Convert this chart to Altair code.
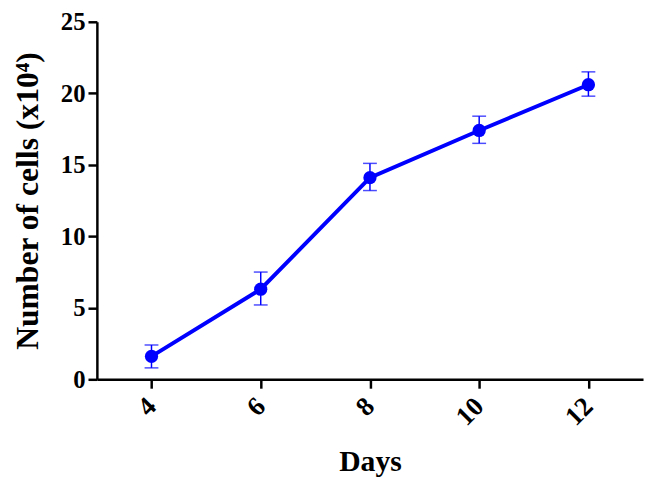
import altair as alt
import pandas as pd

days = [4, 6, 8, 10, 12]
cells = [1.6, 6.3, 14.1, 17.4, 20.6]
err_low = [0.8, 5.2, 13.2, 16.5, 19.8]
err_high = [2.4, 7.5, 15.1, 18.4, 21.5]

df = pd.DataFrame({"days": days, "cells": cells, "lo": err_low, "hi": err_high})

FONT = "Liberation Serif"
BLUE = "#0000FF"

x = alt.X("days:Q", scale=alt.Scale(domain=[3, 13], nice=False, zero=False),
          axis=alt.Axis(values=[4, 6, 8, 10, 12], title="Days", labelAngle=-45,
                        labelAlign="right", labelBaseline="middle", labelPadding=14,
                        labelFontSize=27, titleFontSize=30, titlePadding=17, grid=False,
                        domainWidth=2.5, tickWidth=2.5, tickSize=9, domainColor="black",
                        tickColor="black", labelColor="black", titleColor="black",
                        labelFont=FONT, titleFont=FONT, labelFontWeight="bold",
                        titleFontWeight="bold"))
y = alt.Y("cells:Q", scale=alt.Scale(domain=[0, 25], nice=False),
          axis=alt.Axis(values=[0, 5, 10, 15, 20, 25], title="Number of cells (x10⁴)",
                        labelFontSize=25, titleFontSize=32, titlePadding=16, grid=False,
                        domainWidth=2.5, tickWidth=2.5, tickSize=9, domainColor="black",
                        tickColor="black", labelColor="black", titleColor="black",
                        labelFont=FONT, titleFont=FONT, labelFontWeight="bold",
                        titleFontWeight="bold", labelPadding=3))

base = alt.Chart(df)
line = base.mark_line(color=BLUE, strokeWidth=4).encode(x=x, y=y)
pts = base.mark_point(color=BLUE, filled=True, opacity=1, size=180).encode(x=x, y=y)
bars = base.mark_rule(color=BLUE, strokeWidth=1.5).encode(x="days:Q", y="lo:Q", y2="hi:Q")
cap_lo = base.mark_tick(color=BLUE, thickness=1.5, size=14, orient="horizontal").encode(x="days:Q", y="lo:Q")
cap_hi = base.mark_tick(color=BLUE, thickness=1.5, size=14, orient="horizontal").encode(x="days:Q", y="hi:Q")

chart = alt.layer(bars, cap_lo, cap_hi, line, pts).properties(
    width=553, height=362,
    autosize=alt.AutoSizeParams(type="none"),
    padding={"left": 90, "top": 11, "right": 2, "bottom": 101},
).configure_view(stroke=None)

chart.save("out.html", embed_options={"renderer": "svg", "actions": False})
